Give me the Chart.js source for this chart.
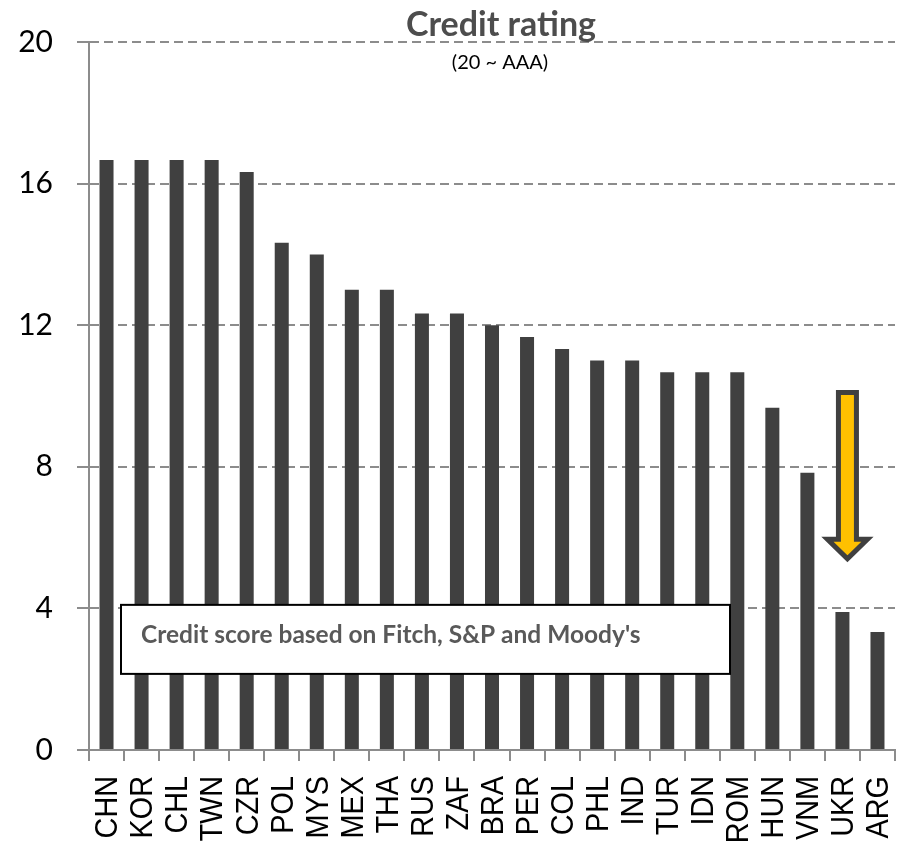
<!DOCTYPE html>
<html>
<head>
<meta charset="utf-8">
<title>Credit rating</title>
<script src="https://cdn.jsdelivr.net/npm/chart.js@4.4.0/dist/chart.umd.min.js"></script>
<style>
  html, body { margin: 0; padding: 0; background: #fff; }
  #wrap { width: 903px; height: 847px; }
</style>
</head>
<body>
<div id="wrap"><canvas id="chart" width="903" height="847"></canvas></div>
<script>
// sovereign ratings on a 0-20 scale (20 = AAA)
var countries = ['CHN', 'KOR', 'CHL', 'TWN', 'CZR', 'POL', 'MYS', 'MEX', 'THA', 'RUS', 'ZAF', 'BRA',
                 'PER', 'COL', 'PHL', 'IND', 'TUR', 'IDN', 'ROM', 'HUN', 'VNM', 'UKR', 'ARG'];
var ratings = [16.67, 16.67, 16.67, 16.67, 16.33, 14.33, 14, 13, 13, 12.33, 12.33, 12,
               11.67, 11.33, 11, 11, 10.67, 10.67, 10.67, 9.67, 7.83, 3.9, 3.33];
var yTicks = [0, 4, 8, 12, 16, 20];

var titleText = 'Credit rating';
var subtitleText = '(20 ~ AAA)';
var noteText = "Credit score based on Fitch, S&P and Moody's";

// downgrade arrow over Ukraine, in rating units
var arrowCountry = 'UKR';
var arrowFrom = 10.1;
var arrowHead = 5.95;
var arrowTo = 5.4;

var GREY = '#8c8c8c';

// country codes, rotated and a bit condensed
var xLabels = {
  id: 'xLabels',
  afterDraw: function(chart) {
    var ctx = chart.ctx;
    var x = chart.scales.x;
    var top = x.top + 26;
    ctx.save();
    ctx.fillStyle = '#000';
    ctx.font = '32px "Liberation Sans"';
    ctx.textAlign = 'right';
    ctx.textBaseline = 'middle';
    x.ticks.forEach(function(t, i) {
      ctx.save();
      ctx.translate(x.getPixelForTick(i) + 2, top);
      ctx.rotate(-Math.PI / 2);
      ctx.scale(0.9, 1);
      ctx.fillText(x.getLabelForValue(t.value), 0, 0);
      ctx.restore();
    });
    ctx.restore();
  }
};

var overlays = {
  id: 'overlays',
  afterDraw: function(chart) {
    var ctx = chart.ctx;
    var area = chart.chartArea;
    var x = chart.scales.x, y = chart.scales.y;

    // note box
    ctx.save();
    var bx = area.left + 32, by = y.getPixelForValue(4.1);
    var bw = 609, bh = y.getPixelForValue(2.15) - by;
    ctx.fillStyle = '#fff';
    ctx.fillRect(bx, by, bw, bh);
    ctx.strokeStyle = '#000';
    ctx.lineWidth = 2;
    ctx.strokeRect(bx, by, bw, bh);
    ctx.fillStyle = '#595959';
    ctx.font = 'bold 24.5px Lato';
    ctx.textBaseline = 'middle';
    ctx.textAlign = 'left';
    ctx.fillText(noteText, bx + 20, by + 30);
    ctx.restore();

    // arrow
    var cx = x.getPixelForValue(countries.indexOf(arrowCountry)) + 5;
    var top = y.getPixelForValue(arrowFrom);
    var hy = y.getPixelForValue(arrowHead);
    var tip = y.getPixelForValue(arrowTo);
    ctx.save();
    ctx.beginPath();
    ctx.moveTo(cx - 9, top);
    ctx.lineTo(cx + 9, top);
    ctx.lineTo(cx + 9, hy);
    ctx.lineTo(cx + 20, hy);
    ctx.lineTo(cx, tip);
    ctx.lineTo(cx - 20, hy);
    ctx.lineTo(cx - 9, hy);
    ctx.closePath();
    ctx.fillStyle = '#ffc000';
    ctx.fill();
    ctx.lineWidth = 5;
    ctx.lineJoin = 'miter';
    ctx.strokeStyle = '#404040';
    ctx.stroke();
    ctx.restore();

    // titles
    ctx.save();
    ctx.textAlign = 'center';
    ctx.textBaseline = 'alphabetic';
    ctx.fillStyle = '#4d4d4d';
    ctx.font = 'bold 34px Lato';
    ctx.fillText(titleText, 501, 36);
    ctx.fillStyle = '#000';
    ctx.font = '20px Lato';
    ctx.fillText(subtitleText, 500, 69);
    ctx.restore();
  }
};

new Chart(document.getElementById('chart'), {
  type: 'bar',
  data: {
    labels: countries,
    datasets: [{
      data: ratings,
      backgroundColor: '#404040',
      barPercentage: 0.4,
      categoryPercentage: 1
    }]
  },
  options: {
    responsive: false,
    animation: false,
    devicePixelRatio: 1,
    layout: { padding: { top: 41, right: 8, left: 0, bottom: 0 } },
    plugins: {
      legend: { display: false },
      title: { display: false },
      tooltip: { enabled: false }
    },
    scales: {
      x: {
        afterFit: function(s) {
          s.height = 97;
          s.paddingLeft = 0;
          s.paddingRight = 0;
        },
        grid: {
          drawOnChartArea: false,
          offset: true,
          color: GREY,
          lineWidth: 2,
          tickLength: 11
        },
        border: { color: GREY, width: 2 },
        ticks: { display: false, autoSkip: false }
      },
      y: {
        min: 0,
        max: 20,
        afterFit: function(s) { s.width = 89; },
        afterBuildTicks: function(s) { s.ticks = yTicks.map(function(v) { return { value: v }; }); },
        grid: {
          color: GREY,
          lineWidth: 2,
          tickLength: 12,
          tickColor: GREY
        },
        border: { display: true, color: GREY, width: 2, dash: [9, 5] },
        ticks: {
          padding: 24,
          color: '#000',
          font: { family: 'Lato', size: 30 }
        }
      }
    }
  },
  plugins: [xLabels, overlays]
});
</script>
</body>
</html>
